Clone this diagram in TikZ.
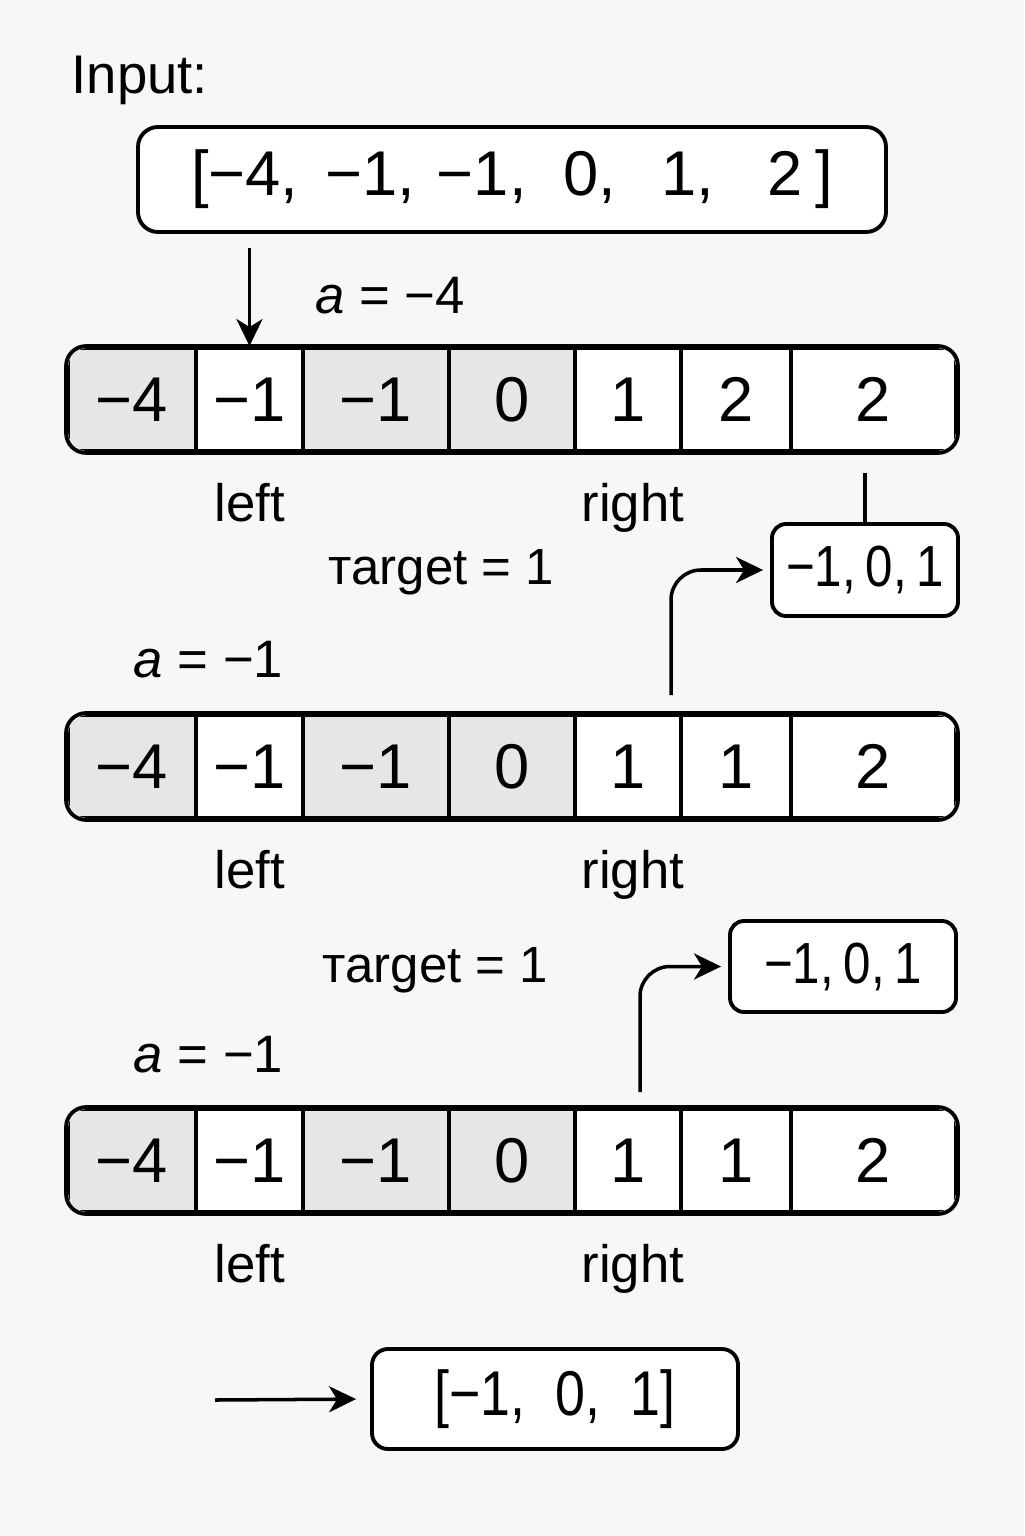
\documentclass[tikz,border=0pt]{standalone}
\usepackage{fontspec}
\setmainfont{Liberation Sans}
\newfontfamily\narrowfont{Liberation Sans}[FakeStretch=0.85]
\usetikzlibrary{arrows.meta, positioning}

\definecolor{bg}{HTML}{F7F7F7}
\definecolor{shade}{HTML}{E6E6E6}

\tikzset{
    cell/.style={draw, line width=1.1pt, minimum height=1.03cm, inner sep=0pt, font=\fontsize{18}{20}\selectfont},
    frame/.style={draw, line width=1.1pt, rounded corners=0.2cm},
    box/.style={draw, fill=white, line width=1.1pt, rounded corners=0.14cm, inner sep=0pt},
    lbl/.style={font=\fontsize{15}{18}\selectfont, inner sep=0pt},
}

\begin{document}
\begin{tikzpicture}[>={Stealth[length=0.27cm, width=0.26cm, inset=0.08cm]}, line width=1pt]
    \fill[bg] (0,0) rectangle (10.24,-15.36);
    \useasboundingbox (0,0) rectangle (10.24,-15.36);

    % input list
    \node[lbl, anchor=west, font=\fontsize{15.5}{18}\selectfont] (input) at (0.70,-0.80) {Input:};
    \node[box, rounded corners=0.2cm, minimum width=7.48cm, minimum height=1.05cm, font=\fontsize{18}{20}\selectfont] (inbox) at (5.12,-1.795)
        {[−4,\hspace{0.27cm}−1,\hspace{0.22cm}−1,\hspace{0.37cm}0,\hspace{0.45cm}1,\hspace{0.53cm}2\hspace{0.13cm}]};

    % the three passes over the sorted array
    \foreach \k/\y/\sixth in {A/-3.995/2, B/-7.665/1, C/-11.605/1} {
        \begin{scope}
            \clip[rounded corners=0.2cm] (0.68,\y-0.515) rectangle (9.56,\y+0.515);
            \foreach \x/\w/\t/\c [count=\i] in {1.32/1.28/−4/shade, 2.495/1.07/−1/white, 3.76/1.46/−1/shade, 5.12/1.26/0/shade, 6.28/1.06/1/white, 7.36/1.10/\sixth/white, 8.735/1.65/2/white}
                \node[cell, fill=\c, minimum width=\w cm] (\k\i) at (\x,\y) {\t};
        \end{scope}
        \draw[frame] (\k1.north west) rectangle (\k7.south east);
        \node[lbl, anchor=base] (\k-left) at ([yshift=-0.69cm]\k2.south) {left};
        \node[lbl, anchor=base] (\k-right) at ([xshift=0.05cm, yshift=-0.69cm]\k5.south) {right};
    }

    % first pass
    \coordinate (a-start) at (2.495,-2.48);
    \draw[->] (a-start) -- (A2.north);
    \node[lbl] (fix1) at (3.90,-2.96) {\textit{a} = −4};

    \node[lbl, font=\fontsize{14.5}{18}\selectfont] (tg1) at (4.41,-5.72) {тarget = 1};
    \node[box, minimum width=1.86cm, minimum height=0.92cm, font=\narrowfont\fontsize{16.5}{18}\selectfont] (sum1) at (8.65,-5.70) {−1,\,0,\,1};
    \coordinate (s1-top) at (8.65,-4.73);
    \draw (s1-top) -- (sum1.north);
    \coordinate (c1) at (6.71,-6.95);
    \draw[->, rounded corners=0.3cm, shorten >=0.07cm] (c1) |- (sum1.west);

    % second pass
    \node[lbl] (fix2) at (2.085,-6.60) {\textit{a} = −1};
    \node[lbl, font=\fontsize{14.5}{18}\selectfont] (tg2) at (4.35,-9.70) {тarget = 1};
    \node[box, minimum width=2.26cm, minimum height=0.91cm, font=\narrowfont\fontsize{16.5}{18}\selectfont] (sum2) at (8.43,-9.665) {−1,\,0,\,1\hspace{0.15cm}};
    \coordinate (c2) at (6.40,-10.92);
    \draw[->, rounded corners=0.3cm, shorten >=0.07cm] (c2) |- (sum2.west);

    % third pass and result
    \node[lbl] (fix3) at (2.085,-10.55) {\textit{a} = −1};
    \node[box, rounded corners=0.16cm, minimum width=3.66cm, minimum height=1.00cm, font=\narrowfont\fontsize{18}{20}\selectfont] (res) at (5.55,-13.99)
        {[−1,\hspace{0.3cm}0,\hspace{0.3cm}1]};
    \coordinate (r0) at (2.15,-14.00);
    \draw[->, shorten >=0.14cm] (r0) -- (res.west);
\end{tikzpicture}
\end{document}
